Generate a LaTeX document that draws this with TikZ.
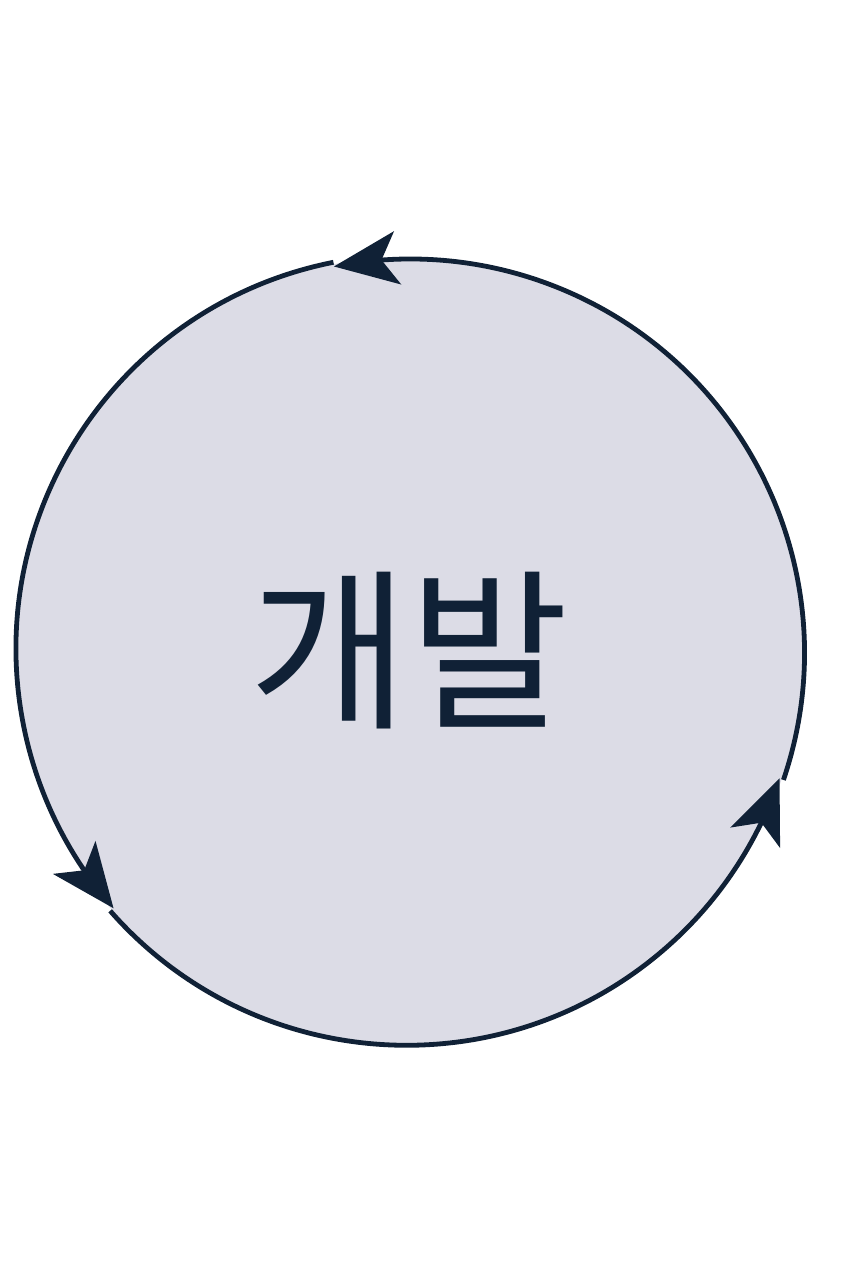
\documentclass[tikz,border=0pt]{standalone}
\usepackage{fontspec}
\newfontfamily\krfont{Noto Sans CJK KR}
\usetikzlibrary{arrows.meta,bending}

\definecolor{cyclenavy}{RGB}{16,33,54}
\definecolor{cyclefill}{RGB}{220,220,230}

\tikzset{every picture/.style={line width=3pt}}

\begin{document}
\begin{tikzpicture}[x=0.75pt,y=0.75pt,yscale=-1,xscale=1,
	cyclebg/.style={circle, minimum size=591pt, inner sep=0pt, fill=cyclefill, text=cyclenavy, font=\krfont\fontsize{130}{136}\selectfont},
	cyclearrow/.style={draw=cyclenavy, line width=3.6pt, -{Stealth[length=48pt,width=40pt,inset=12pt,flex]}}]
	\useasboundingbox (0,0) rectangle (848,1264);

	% Text Node
	\node[cyclebg] (dev) at (409,651) {\raisebox{2pt}{개발}};

	%Arcs
	\foreach \a in {341.2,101.2,221.2}
		\draw[cyclearrow] (dev.\a) arc[start angle=-\a, delta angle=-120, radius=394];

\end{tikzpicture}
\end{document}
